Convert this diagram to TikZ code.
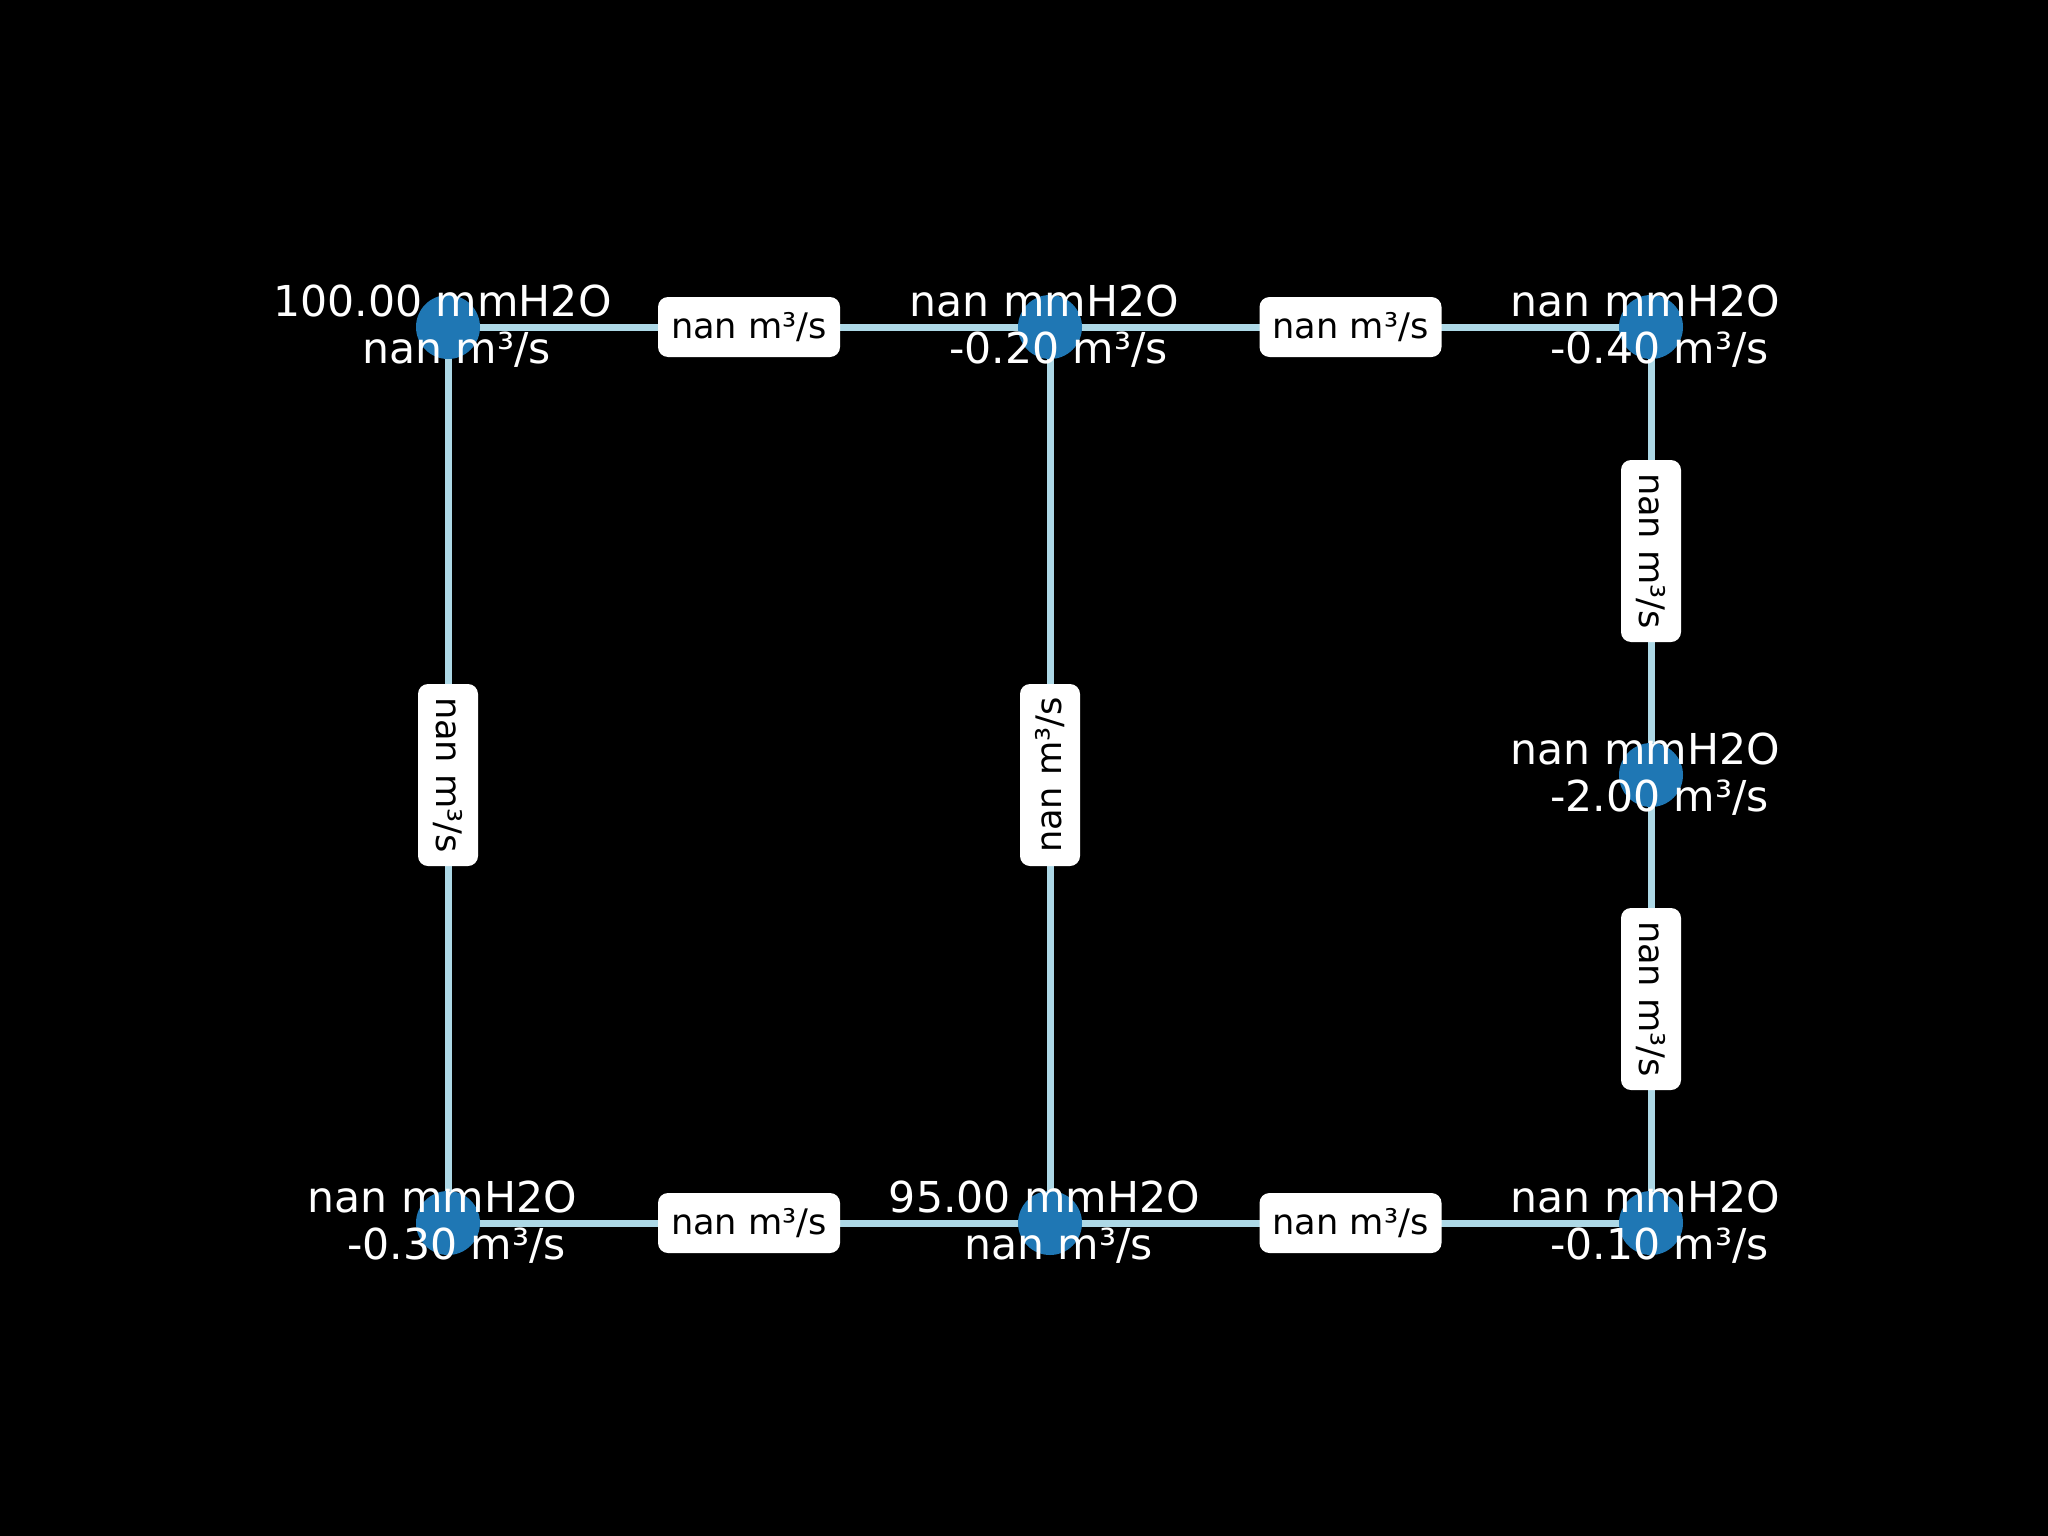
\documentclass[tikz,border=0pt]{standalone}
\usepackage{fontspec}
\setmainfont{DejaVu Sans}
\usetikzlibrary{calc}
\definecolor{edgecol}{HTML}{ADD8E6}
\definecolor{nodecol}{HTML}{1F77B4}
\tikzset{
  pipe/.style={draw=edgecol, line width=7pt},
  junction/.style={circle, fill=nodecol, minimum size=64pt, inner sep=0pt},
  nlabel/.style={text=white, anchor=base, inner sep=0pt, font=\fontsize{42.6}{50}\selectfont},
  elabel/.style={rectangle, rounded corners=10pt, fill=white, text=black, minimum width=182pt, minimum height=60pt, inner sep=0pt, font=\fontsize{35.2}{42}\selectfont}
}
\begin{document}
\begin{tikzpicture}[x=1pt, y=-1pt]
\fill[black] (0,0) rectangle (2048,1536);
\useasboundingbox (0,0) rectangle (2048,1536);
% junction coordinates
\coordinate (cA) at (448,327);
\coordinate (cB) at (1050,327);
\coordinate (cC) at (1651,327);
\coordinate (cD) at (1651,775);
\coordinate (cE) at (448,1223);
\coordinate (cF) at (1050,1223);
\coordinate (cG) at (1651,1223);
% pipes
\draw[pipe] (cA) -- (cB);
\draw[pipe] (cB) -- (cC);
\draw[pipe] (cC) -- (cD);
\draw[pipe] (cD) -- (cG);
\draw[pipe] (cA) -- (cE);
\draw[pipe] (cB) -- (cF);
\draw[pipe] (cE) -- (cF);
\draw[pipe] (cF) -- (cG);
% edge labels
\node[elabel] (eAB) at ($(cA)!0.5!(cB)$) {nan m³/s};
\node[elabel] (eBC) at ($(cB)!0.5!(cC)$) {nan m³/s};
\node[elabel, rotate=-90] (eCD) at ($(cC)!0.5!(cD)$) {nan m³/s};
\node[elabel, rotate=-90] (eDG) at ($(cD)!0.5!(cG)$) {nan m³/s};
\node[elabel, rotate=-90] (eAE) at ($(cA)!0.5!(cE)$) {nan m³/s};
\node[elabel, rotate=90] (eBF) at ($(cB)!0.5!(cF)$) {nan m³/s};
\node[elabel] (eEF) at ($(cE)!0.5!(cF)$) {nan m³/s};
\node[elabel] (eFG) at ($(cF)!0.5!(cG)$) {nan m³/s};
% junctions
\node[junction] (nA) at (cA) {};
\node[junction] (nB) at (cB) {};
\node[junction] (nC) at (cC) {};
\node[junction] (nD) at (cD) {};
\node[junction] (nE) at (cE) {};
\node[junction] (nF) at (cF) {};
\node[junction] (nG) at (cG) {};
% junction labels
\node[nlabel] (pA) at ($(cA)+(-5.5,-11)$) {100.00 mmH2O};
\node[nlabel] (qA) at ($(cA)+(8.5,36.5)$) {nan m³/s};
\node[nlabel] (pB) at ($(cB)+(-5.5,-11)$) {nan mmH2O};
\node[nlabel] (qB) at ($(cB)+(8.5,36.5)$) {-0.20 m³/s};
\node[nlabel] (pC) at ($(cC)+(-5.5,-11)$) {nan mmH2O};
\node[nlabel] (qC) at ($(cC)+(8.5,36.5)$) {-0.40 m³/s};
\node[nlabel] (pD) at ($(cD)+(-5.5,-11)$) {nan mmH2O};
\node[nlabel] (qD) at ($(cD)+(8.5,36.5)$) {-2.00 m³/s};
\node[nlabel] (pE) at ($(cE)+(-5.5,-11)$) {nan mmH2O};
\node[nlabel] (qE) at ($(cE)+(8.5,36.5)$) {-0.30 m³/s};
\node[nlabel] (pF) at ($(cF)+(-5.5,-11)$) {95.00 mmH2O};
\node[nlabel] (qF) at ($(cF)+(8.5,36.5)$) {nan m³/s};
\node[nlabel] (pG) at ($(cG)+(-5.5,-11)$) {nan mmH2O};
\node[nlabel] (qG) at ($(cG)+(8.5,36.5)$) {-0.10 m³/s};
\end{tikzpicture}
\end{document}
